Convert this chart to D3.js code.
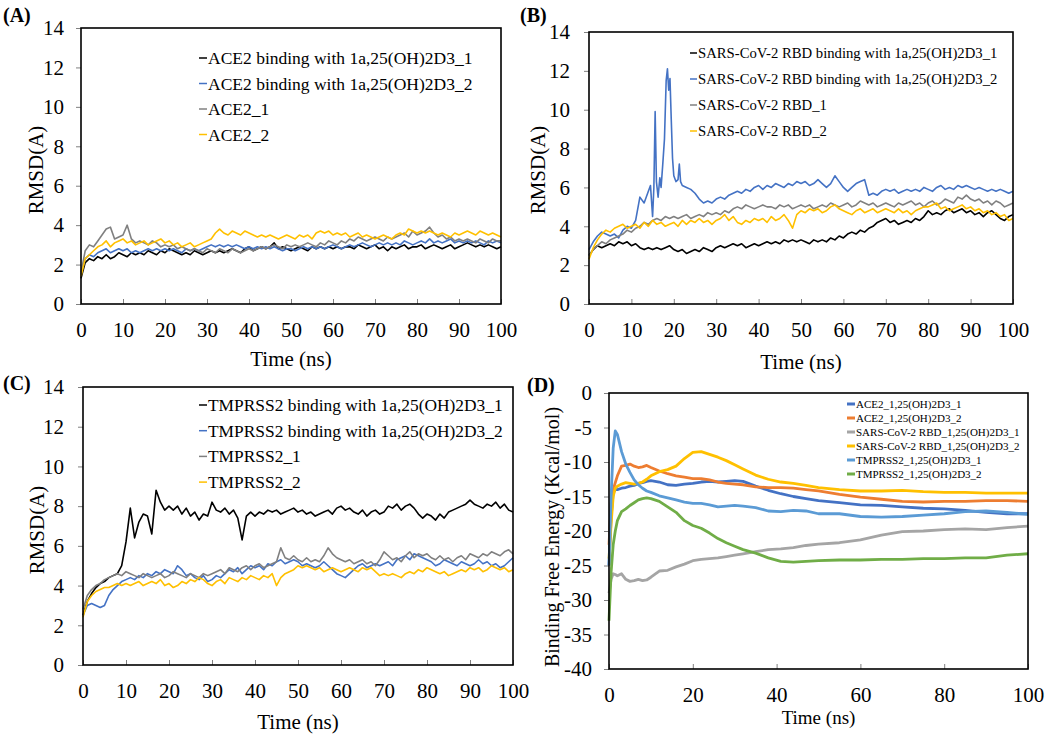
<!DOCTYPE html>
<html><head><meta charset="utf-8">
<script src="https://cdn.jsdelivr.net/npm/d3@7"></script>
<style>
body{margin:0;background:#fff}
svg{display:block}
text{font-family:"Liberation Serif","Times New Roman",serif;fill:#000}
</style>
</head><body>
<svg id="chart" width="1050" height="736"></svg>
<script>
// ---------- shared time grids ----------
const timeNs = [0,1,2,3,4,5,6,7,8,9,10,11,12,13,14,15,16,17,18,19,20,21,22,23,24,25,26,27,28,29,30,31,32,33,34,35,36,37,38,39,40,41,42,43,44,45,46,47,48,49,50,51,52,53,54,55,56,57,58,59,60,61,62,63,64,65,66,67,68,69,70,71,72,73,74,75,76,77,78,79,80,81,82,83,84,85,86,87,88,89,90,91,92,93,94,95,96,97,98,99,100];
const timeSpike = [0,1,2,3,4,5,6,7,8,9,10,11,12,13,14,14.5,15,15.3,15.6,15.9,16.3,16.7,17,17.4,17.8,18.2,18.5,18.8,19.1,19.4,19.7,20,20.5,21,21.3,21.6,22,23,24,25,26,27,28,29,30,31,32,33,34,35,36,37,38,39,40,41,42,43,44,45,46,47,48,49,50,51,52,53,54,55,56,57,58,59,60,61,62,63,64,65,66,67,68,69,70,71,72,73,74,75,76,77,78,79,80,81,82,83,84,85,86,87,88,89,90,91,92,93,94,95,96,97,98,99,100];
const timeEnergy = [0,0.5,1,1.5,2,3,4,5,6,7,8,9,10,12,14,16,18,20,22,24,26,28,30,32,35,38,41,44,47,50,55,60,65,70,75,80,85,90,95,100];

// ---------- Panel A : ACE2 RMSD ----------
const aLabels = ["ACE2 binding with 1a,25(OH)2D3_1","ACE2 binding with 1a,25(OH)2D3_2","ACE2_1","ACE2_2"];
const aBound1 = [1.3,2.1,2.3,2.2,2.4,2.3,2.5,2.3,2.4,2.6,2.5, 2.4,2.6,2.5,2.6,2.5,2.7,2.6,2.5,2.7,2.6, 2.8,2.7,2.6,2.5,2.6,2.5,2.7,2.6,2.5,2.6, 2.7,2.6,2.7,2.6,2.7,2.8,2.7,2.6,2.8,2.9, 2.7,2.8,2.9,2.8,2.9,3.1,2.8,2.9,2.8,2.7, 2.8,2.9,2.8,2.7,2.9,2.8,2.9,2.8,2.9,2.8, 2.9,2.8,2.9,2.9,2.8,3.0,2.9,2.8,2.9,3.0, 2.8,2.9,2.7,2.9,2.8,2.9,3.0,2.8,2.9,2.9, 3.0,2.8,2.9,3.0,2.9,2.8,2.9,3.0,2.8,2.9, 3.0,3.1,3.0,2.9,3.0,2.9,3.0,2.9,2.8,2.9];
const aBound2 = [1.5,2.3,2.5,2.4,2.6,2.7,2.8,2.6,2.7,2.8,2.7, 2.8,2.6,2.7,2.6,2.7,2.8,2.7,2.8,2.7,2.8, 2.7,2.8,2.7,2.6,2.8,2.7,2.8,2.7,2.8,2.9, 3.0,2.9,3.0,2.9,3.0,2.9,3.0,2.9,2.8,2.9, 2.8,2.9,2.8,2.9,2.8,2.9,2.8,2.7,2.8,2.8, 2.7,2.8,2.9,2.8,2.9,2.8,2.9,2.8,2.9,3.0, 2.9,2.8,2.9,3.0,2.9,3.0,3.1,3.0,2.9,3.0, 3.1,3.0,3.1,3.0,3.1,3.0,3.2,3.1,3.0,3.1, 3.2,3.1,3.3,3.1,3.2,3.1,3.2,3.3,3.1,3.2, 3.1,3.2,3.1,3.2,3.1,3.0,3.2,3.1,3.2,3.1];
const aApo1 = [1.6,2.7,3.0,2.9,3.2,3.5,3.8,3.9,3.3,3.4,3.5, 4.0,3.3,3.1,3.2,3.1,3.0,3.2,3.1,2.9,3.0, 2.9,3.0,2.8,2.9,2.8,2.7,2.8,2.7,2.6,2.8, 2.7,2.6,2.8,2.7,2.6,2.8,2.7,2.6,2.7,2.8, 2.7,2.8,2.9,2.8,2.9,3.0,2.9,2.8,3.0,2.9, 3.0,2.9,3.0,3.1,3.0,2.9,3.1,3.0,3.2,3.1, 3.0,3.2,3.1,3.3,3.2,3.4,3.3,3.2,3.3,3.4, 3.3,3.2,3.4,3.3,3.4,3.5,3.6,3.4,3.7,3.5, 3.6,3.7,3.9,3.6,3.4,3.5,3.3,3.4,3.2,3.3, 3.2,3.3,3.2,3.1,3.3,3.2,3.1,3.3,3.2,3.2];
const aApo2 = [1.4,2.3,2.5,2.7,2.9,3.0,3.2,2.9,3.1,3.2,3.3, 3.1,3.2,3.0,3.1,3.2,3.0,3.1,3.2,3.3,3.1, 3.2,3.0,3.1,2.9,3.0,3.1,2.9,3.0,3.1,3.2, 3.3,3.6,3.8,3.6,3.5,3.7,3.6,3.5,3.7,3.6, 3.5,3.4,3.5,3.4,3.5,3.4,3.3,3.4,3.5,3.4, 3.3,3.5,3.4,3.5,3.3,3.6,3.7,3.6,3.7,3.5, 3.6,3.5,3.6,3.4,3.5,3.6,3.4,3.5,3.4,3.3, 3.4,3.5,3.4,3.3,3.5,3.6,3.5,3.8,3.7,3.6, 3.7,3.6,3.7,3.6,3.5,3.6,3.5,3.4,3.6,3.5, 3.6,3.7,3.6,3.5,3.7,3.6,3.5,3.6,3.5,3.4];

// ---------- Panel B : SARS-CoV-2 RBD RMSD ----------
const bLabels = ["SARS-CoV-2 RBD binding with 1a,25(OH)2D3_1","SARS-CoV-2 RBD binding with 1a,25(OH)2D3_2","SARS-CoV-2 RBD_1","SARS-CoV-2 RBD_2"];
const bBound1 = [2.5,2.8,3.0,2.9,3.0,3.1,3.0,3.2,3.1,3.2,3.0, 3.1,2.9,2.8,2.9,2.8,2.9,2.8,2.9,3.0,2.8, 2.7,2.8,2.6,2.7,2.8,2.7,2.9,2.8,2.7,2.9, 3.0,2.9,3.0,3.1,3.0,3.1,2.9,3.0,3.1,3.0, 3.1,3.2,3.1,3.2,3.1,3.3,3.2,3.3,3.2,3.3, 3.2,3.1,3.3,3.2,3.3,3.2,3.4,3.3,3.5,3.4, 3.6,3.7,3.6,3.8,3.7,3.9,4.0,4.2,4.3,4.4, 4.2,4.3,4.1,4.2,4.3,4.2,4.4,4.3,4.5,4.8, 4.6,4.7,4.6,4.8,4.9,4.7,4.8,4.9,4.7,4.8, 4.6,4.7,4.5,4.7,4.8,4.6,4.4,4.3,4.5,4.6];
const bBound2 = [2.8,3.2,3.5,3.7,3.6,3.5,3.6,3.4,3.8,4.0,3.9,4.3,5.5,5.2,5.8, 6.1,4.5,6.0,9.9,6.3,5.5,6.5,6.0,7.2,8.5,11.5,12.1,11.0,11.6,9.5,7.5,6.6,6.3,6.4,7.2,6.3,6.1,6.0, 5.9,5.7,5.4,5.2,5.3,5.2,5.4, 5.5,5.4,5.6,5.7,5.8,5.7,5.9,5.8,6.0,6.1, 5.9,6.1,6.0,6.2,6.1,6.0,6.2,6.1,6.3,6.2, 6.3,6.1,6.2,6.4,6.2,6.0,6.2,6.6,6.3,6.0, 5.8,6.0,6.2,6.3,6.4,5.6,5.7,5.6,5.8,5.9, 5.8,5.9,5.7,5.8,5.9,5.8,5.9,5.8,6.0,5.9, 5.8,6.0,6.1,5.9,6.0,5.9,6.1,6.0,6.1,6.0, 5.9,6.0,5.9,5.8,5.9,5.8,5.9,5.8,5.7,5.8];
const bApo1 = [2.5,2.8,3.0,3.2,3.1,3.3,3.4,3.5,3.6,3.8,3.7, 3.9,4.0,4.2,4.1,4.3,4.4,4.3,4.5,4.4,4.5, 4.4,4.5,4.6,4.4,4.5,4.6,4.5,4.7,4.6,4.7, 4.6,4.8,4.7,4.9,5.0,4.9,5.1,5.0,4.9,5.0, 5.1,5.0,5.0,4.9,5.1,5.0,5.1,4.9,5.0,5.1, 5.0,5.1,4.9,5.0,5.1,5.0,5.2,5.1,5.0,5.1, 5.2,5.0,5.1,5.3,5.2,5.1,5.2,5.0,5.1,5.2, 5.1,5.0,5.2,5.1,5.2,5.3,5.1,5.2,5.0,5.2, 5.3,5.1,5.2,5.4,5.3,5.2,5.5,5.4,5.6,5.4, 5.3,5.4,5.2,5.3,5.1,5.3,5.2,5.0,5.1,5.2];
const bApo2 = [2.3,2.9,3.3,3.6,3.8,3.7,3.9,4.0,4.1,3.9,4.0, 4.1,3.9,4.2,4.0,4.3,4.1,4.2,4.0,4.1,4.2, 4.0,4.3,4.1,4.3,4.2,4.4,4.2,4.3,4.1,4.3, 4.4,4.6,4.3,4.5,4.2,4.1,4.3,4.2,4.4,4.3, 4.4,4.2,4.5,4.3,4.4,4.6,4.3,3.9,4.6,4.8, 4.7,4.9,4.8,4.9,4.7,4.8,5.0,5.1,4.9,4.8, 4.7,4.6,4.8,4.9,4.7,4.8,4.9,4.7,4.8,4.9, 4.8,4.7,4.9,4.7,4.8,4.6,4.8,4.9,5.0,5.0, 5.1,5.2,4.9,5.0,4.8,4.9,5.0,5.1,4.9,5.0, 4.8,4.9,4.7,4.8,4.6,4.7,4.5,4.6,4.3,4.4];

// ---------- Panel C : TMPRSS2 RMSD ----------
const cLabels = ["TMPRSS2 binding with 1a,25(OH)2D3_1","TMPRSS2 binding with 1a,25(OH)2D3_2","TMPRSS2_1","TMPRSS2_2"];
const cBound1 = [2.5,3.2,3.6,3.9,4.1,4.2,4.4,4.5,4.6,5.0,6.2, 7.9,6.4,7.2,7.6,7.5,6.6,8.8,8.2,7.8,8.0, 7.8,8.0,7.6,7.9,7.5,7.7,7.3,7.6,7.5,8.2, 7.8,7.7,7.9,7.6,7.8,7.4,6.3,7.5,7.7,7.5, 7.7,7.6,7.8,7.7,7.8,7.6,7.7,7.8,7.9,7.7, 7.8,7.6,7.7,7.5,7.6,7.7,7.8,7.6,7.9,8.0, 7.8,7.9,7.7,7.6,7.8,7.5,7.7,7.8,7.6,7.7, 8.0,7.9,8.1,7.8,8.0,8.1,7.9,7.6,7.4,7.6, 7.5,7.3,7.6,7.4,7.7,7.8,7.9,8.0,8.1,8.3, 8.1,8.0,7.9,8.1,8.0,8.2,7.9,8.1,7.8,7.7];
const cBound2 = [2.5,3.0,3.1,3.0,2.9,3.0,3.5,3.8,4.0,4.2,4.3, 4.4,4.3,4.5,4.4,4.6,4.5,4.7,4.6,4.8,4.7, 4.6,5.0,4.8,4.5,4.6,4.4,4.3,4.5,4.2,4.3, 4.5,4.4,4.6,4.8,4.7,4.9,4.6,4.8,5.0,4.9, 5.0,4.8,5.1,5.0,5.2,5.3,5.1,5.2,5.3,5.2, 5.0,5.1,5.0,4.9,5.0,5.2,5.0,4.8,4.6,4.5, 4.4,4.6,4.8,5.0,5.1,4.9,5.0,5.1,5.0,5.1, 5.2,5.0,5.3,5.4,5.5,5.3,5.6,5.5,5.4,5.3, 5.2,5.0,5.1,5.3,5.2,5.1,5.0,5.2,5.1,5.0, 5.1,5.3,5.1,5.2,5.0,5.1,4.9,5.0,5.2,5.4];
const cApo1 = [2.8,3.5,3.8,4.0,4.1,4.3,4.4,4.5,4.6,4.5,4.7, 4.6,4.5,4.4,4.6,4.5,4.4,4.5,4.6,4.4,4.5, 4.7,4.6,4.5,4.4,4.6,4.5,4.4,4.6,4.5,4.6, 4.7,4.8,4.6,4.9,4.8,4.7,4.9,5.0,4.8,5.0, 5.1,4.9,5.0,5.1,5.2,5.9,5.4,5.3,5.5,5.3, 5.2,5.4,5.2,5.3,5.2,5.5,5.9,5.6,5.4,5.3, 5.2,5.3,5.1,5.2,5.3,5.1,5.2,5.0,5.3,5.7, 5.5,5.3,5.4,5.2,5.5,5.7,5.4,5.6,5.5,5.6, 5.4,5.3,5.5,5.3,5.4,5.2,5.4,5.5,5.3,5.6, 5.5,5.4,5.6,5.5,5.7,5.6,5.5,5.7,5.8,5.6];
const cApo2 = [2.4,3.2,3.5,3.7,3.8,3.9,3.9,4.0,4.1,4.0,4.1, 4.0,4.1,4.2,4.0,4.1,4.2,4.1,4.3,4.0,4.1, 3.9,4.0,4.2,4.1,4.3,4.2,4.4,4.3,4.1,4.0, 4.2,4.3,4.1,4.4,4.3,4.2,4.4,4.3,4.5,4.4, 4.3,4.5,4.4,4.6,4.0,4.4,4.6,4.7,4.8,5.0, 4.9,5.0,4.9,4.8,4.9,4.7,4.8,4.9,4.8,4.7, 4.8,4.9,4.8,4.7,4.9,4.8,4.9,4.7,4.5,4.6, 4.5,4.6,4.5,4.4,4.6,4.7,4.6,4.8,4.7,4.9, 4.8,4.7,4.6,4.7,4.5,4.6,4.7,4.8,4.7,4.9, 4.8,4.9,4.7,4.8,5.0,4.9,4.8,4.9,4.7,4.8];

// ---------- Panel D : binding free energy ----------
const dLabels = ["ACE2_1,25(OH)2D3_1","ACE2_1,25(OH)2D3_2","SARS-CoV-2 RBD_1,25(OH)2D3_1","SARS-CoV-2 RBD_1,25(OH)2D3_2","TMPRSS2_1,25(OH)2D3_1","TMPRSS2_1,25(OH)2D3_2"];
const dAce1 = [-25,-18,-14.5,-14,-14,-13.8,-13.7,-13.5,-13.4,-13.1,-13.0,-12.8,-12.7,-12.9,-13.3,-13.4,-13.2,-13.1,-12.9,-12.8,-12.9,-12.8,-12.7,-12.8,-13.5,-14.1,-14.6,-15.0,-15.3,-15.6,-15.9,-16.2,-16.3,-16.5,-16.7,-16.8,-17.0,-17.3,-17.5,-17.5];
const dAce2 = [-22,-16,-14,-13,-12,-10.6,-10.5,-10.3,-10.6,-10.8,-10.7,-10.5,-10.8,-11.3,-11.7,-12.0,-12.2,-12.4,-12.4,-12.6,-12.9,-13.1,-13.2,-13.3,-13.6,-13.7,-13.7,-13.8,-14.0,-14.2,-14.7,-15.1,-15.4,-15.7,-15.8,-15.7,-15.7,-15.6,-15.6,-15.7];
const dRbd1 = [-29,-27,-26.2,-26.3,-26.5,-26.2,-27.0,-27.3,-27.2,-27.0,-27.2,-27.1,-26.7,-25.8,-25.7,-25.2,-24.8,-24.3,-24.1,-24.0,-23.9,-23.7,-23.5,-23.3,-23.0,-22.7,-22.6,-22.4,-22.1,-21.9,-21.7,-21.3,-20.6,-20.1,-20.0,-19.8,-19.7,-19.8,-19.5,-19.3];
const dRbd2 = [-24,-19,-15,-13.8,-13.5,-13.2,-13.0,-13.1,-13.2,-13.1,-12.9,-12.5,-12.0,-11.4,-11.1,-10.6,-9.5,-8.6,-8.5,-8.9,-9.3,-9.8,-10.4,-11.0,-11.9,-12.5,-12.9,-13.1,-13.4,-13.7,-14.0,-14.2,-14.2,-14.1,-14.3,-14.4,-14.4,-14.5,-14.5,-14.5];
const dTmp1 = [-25,-15,-8,-5.5,-6.0,-8.5,-10.3,-11.5,-12.6,-13.3,-13.8,-14.2,-14.4,-14.9,-15.2,-15.5,-15.8,-16.0,-16.0,-16.2,-16.5,-16.4,-16.3,-16.4,-16.6,-17.1,-17.2,-17.0,-17.1,-17.5,-17.5,-17.9,-18.0,-17.9,-17.7,-17.5,-17.2,-17.1,-17.3,-17.6];
const dTmp2 = [-33,-26,-22,-20,-18.5,-17.2,-16.8,-16.3,-15.9,-15.5,-15.3,-15.2,-15.3,-15.7,-16.5,-17.3,-18.5,-19.2,-19.6,-20.3,-21.1,-21.7,-22.2,-22.7,-23.2,-23.9,-24.4,-24.5,-24.4,-24.3,-24.2,-24.2,-24.1,-24.1,-24.0,-24.0,-23.9,-23.9,-23.5,-23.3];

const rmsdColors = ["#000000","#4472C4","#808080","#FFC000"];
const energyColors = ["#4472C4","#ED7D31","#A5A5A5","#FFC000","#5B9BD5","#70AD47"];
const rmsdTicksY = [0,2,4,6,8,10,12,14];
const rmsdTicksX = [0,10,20,30,40,50,60,70,80,90,100];
const energyTicksY = [0,-5,-10,-15,-20,-25,-30,-35,-40];
const energyTicksX = [0,20,40,60,80,100];

const svg = d3.select("#chart");
const serif = '"Liberation Serif","Times New Roman",serif';

function panel(cfg){
  const g = svg.append("g");
  const x = d3.scaleLinear().domain([0,100]).range([cfg.box[0], cfg.box[1]]);
  const y = d3.scaleLinear().domain(cfg.yDomain).range([cfg.box[3], cfg.box[2]]);
  const line = d3.line().x(d=>x(d[0])).y(d=>y(d[1]));
  cfg.series.forEach((s,i)=>{
    const pts = s.t.map((t,k)=>[t, s.v[k]]);
    g.append("path").attr("d", line(pts)).attr("fill","none")
      .attr("stroke", cfg.colors[i]).attr("stroke-width", cfg.lw).attr("stroke-linejoin","round");
  });
  const ya = g.append("g").attr("transform",`translate(${cfg.box[0]},0)`)
    .call(d3.axisLeft(y).tickValues(cfg.yTicks).tickSize(5).tickSizeOuter(0).tickPadding(cfg.yPad).tickFormat(d=>String(d)));
  const xa = g.append("g").attr("transform",`translate(0,${cfg.box[3]})`)
    .call(d3.axisBottom(x).tickValues(cfg.xTicks).tickSize(-5).tickSizeOuter(0).tickPadding(cfg.xPad).tickFormat(d=>String(d)));
  [ya,xa].forEach(a=>{
    a.attr("font-family",serif);
    a.select(".domain").remove();
    a.selectAll(".tick line").attr("stroke","#808080").attr("stroke-width",1);
    a.selectAll("text").attr("font-size",cfg.tickFont).attr("fill","#000");
  });
  g.append("rect").attr("x",cfg.box[0]).attr("y",cfg.box[2])
    .attr("width",cfg.box[1]-cfg.box[0]).attr("height",cfg.box[3]-cfg.box[2])
    .attr("fill","none").attr("stroke","#000").attr("stroke-width",1.6);
  g.append("text").attr("x",(cfg.box[0]+cfg.box[1])/2).attr("y",cfg.xTitleY)
    .attr("text-anchor","middle").attr("font-size",cfg.titleFont).text("Time (ns)");
  g.append("text").attr("transform",`translate(${cfg.yTitleX},${cfg.yTitleCY}) rotate(-90)`)
    .attr("text-anchor","middle").attr("dominant-baseline","central").attr("font-size",cfg.yTitleFont).text(cfg.yTitle);
  g.append("text").attr("x",cfg.letter[0]).attr("y",cfg.letter[1]).attr("font-size",20).attr("font-weight","bold").text(cfg.letter[2]);
  const L = cfg.legend;
  cfg.labels.forEach((lab,i)=>{
    const yy = L.y + i*L.dy;
    g.append("line").attr("x1",L.x).attr("x2",L.x+L.mw).attr("y1",yy).attr("y2",yy)
      .attr("stroke",cfg.colors[i]).attr("stroke-width",L.mh);
    g.append("text").attr("x",L.x+L.mw+1).attr("y",yy).attr("dominant-baseline","central")
      .attr("font-size",L.fs).text(lab);
  });
}

panel({box:[81,501,28,304], yDomain:[0,14], yTicks:rmsdTicksY, xTicks:rmsdTicksX,
  series:[{t:timeNs,v:aBound1},{t:timeNs,v:aBound2},{t:timeNs,v:aApo1},{t:timeNs,v:aApo2}],
  colors:rmsdColors, lw:1.6, labels:aLabels, yPad:12, xPad:18, tickFont:21, titleFont:21,
  xTitleY:366, yTitle:"RMSD(A)", yTitleX:36, yTitleCY:170, yTitleFont:21, letter:[3,22,"(A)"],
  legend:{x:199,y:58,dy:25.5,mw:8,mh:1.5,fs:17.5}});

panel({box:[589,1013,32,304], yDomain:[0,14], yTicks:rmsdTicksY, xTicks:rmsdTicksX,
  series:[{t:timeNs,v:bBound1},{t:timeSpike,v:bBound2},{t:timeNs,v:bApo1},{t:timeNs,v:bApo2}],
  colors:rmsdColors, lw:1.6, labels:bLabels, yPad:14, xPad:18, tickFont:21, titleFont:21,
  xTitleY:369, yTitle:"RMSD(A)", yTitleX:538, yTitleCY:170, yTitleFont:21, letter:[520,22,"(B)"],
  legend:{x:690,y:53,dy:26,mw:7,mh:1.5,fs:14.7}});

panel({box:[83,513,387,665], yDomain:[0,14], yTicks:rmsdTicksY, xTicks:rmsdTicksX,
  series:[{t:timeNs,v:cBound1},{t:timeNs,v:cBound2},{t:timeNs,v:cApo1},{t:timeNs,v:cApo2}],
  colors:rmsdColors, lw:1.6, labels:cLabels, yPad:14, xPad:18, tickFont:21, titleFont:21,
  xTitleY:729, yTitle:"RMSD(A)", yTitleX:37, yTitleCY:530, yTitleFont:21, letter:[3,390,"(C)"],
  legend:{x:199,y:405,dy:25.7,mw:8,mh:1.5,fs:17.4}});

panel({box:[609,1028,393,669], yDomain:[-40,0], yTicks:energyTicksY, xTicks:energyTicksX,
  series:[dAce1,dAce2,dRbd1,dRbd2,dTmp1,dTmp2].map(v=>({t:timeEnergy,v:v})),
  colors:energyColors, lw:2.8, labels:dLabels, yPad:12, xPad:18, tickFont:21, titleFont:19,
  xTitleY:724, yTitle:"Binding Free Energy (Kcal/mol)", yTitleX:552, yTitleCY:537, yTitleFont:20, letter:[527,392,"(D)"],
  legend:{x:847,y:404,dy:14,mw:8,mh:3,fs:11}});
</script>
</body></html>
